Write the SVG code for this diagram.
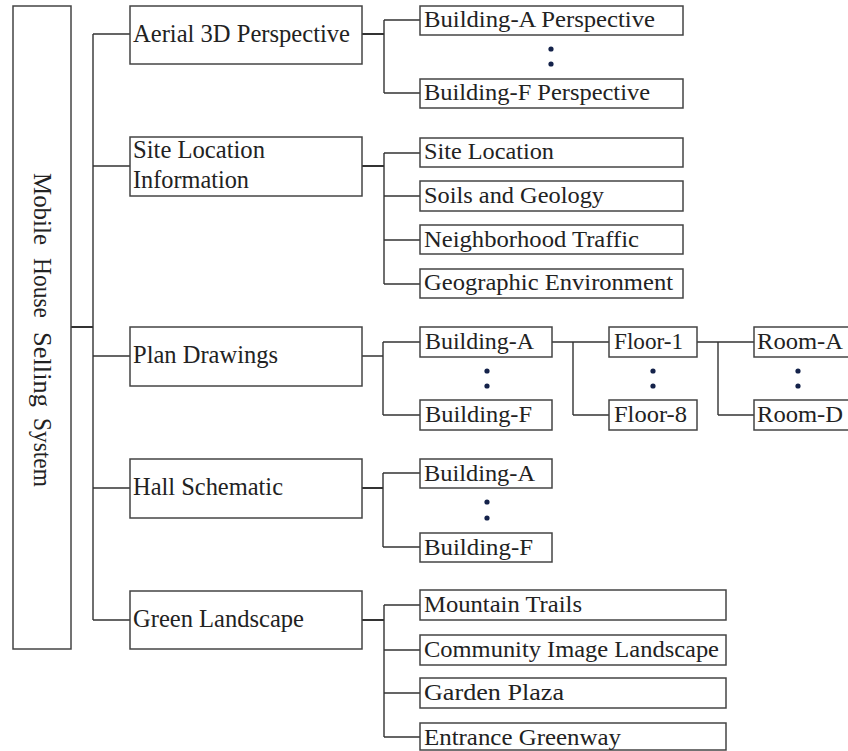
<svg xmlns="http://www.w3.org/2000/svg" width="848" height="751" viewBox="0 0 848 751">
<style>
.box{fill:#fff;stroke:#444;stroke-width:1.5}
.ln{fill:none;stroke:#333;stroke-width:1.4}
.t{font-family:"Liberation Serif","Times New Roman",serif;font-size:24px;fill:#222}
.t1{font-size:25px}
.dot{fill:#14224a}
</style>
<rect width="848" height="751" fill="#fff"/>
<g id="connectors">
<path class="ln" style="stroke-width:2" d="M71,327H93"/>
<path class="ln" d="M93,34V620M93,34H130M93,166H130M93,356H130M93,488H130M93,620H130"/>
<path class="ln" style="stroke-width:2" d="M362,34H384"/>
<path class="ln" d="M384,20V93M384,20H420M384,93H420"/>
<path class="ln" style="stroke-width:2" d="M362,166H384"/>
<path class="ln" d="M384,153V284M384,153H420M384,196H420M384,240H420M384,284H420"/>
<path class="ln" d="M362,356H383M383,342V415M383,342H420M383,415H420"/>
<path class="ln" d="M552,342H609M573,342V415M573,415H609"/>
<path class="ln" d="M697,342H754M718,342V415M718,415H754"/>
<path class="ln" style="stroke-width:2" d="M362,488H383"/>
<path class="ln" d="M383,473V547M383,473H420M383,547H420"/>
<path class="ln" style="stroke-width:2" d="M362,620H384"/>
<path class="ln" d="M384,605V737M384,605H420M384,650H420M384,693H420M384,737H420"/>
</g>
<g id="root">
<rect class="box" x="13" y="6" width="58" height="643"/>
<text class="t t1" transform="translate(34,173) rotate(90)"><tspan x="0" textLength="72" lengthAdjust="spacingAndGlyphs">Mobile</tspan> <tspan x="85" textLength="60" lengthAdjust="spacingAndGlyphs">House</tspan> <tspan x="159" textLength="75" lengthAdjust="spacingAndGlyphs">Selling</tspan> <tspan x="245" textLength="69" lengthAdjust="spacingAndGlyphs">System</tspan></text>
</g>
<g id="aerial">
<rect class="box" x="130" y="6" width="232" height="58"/>
<text class="t t1" x="133" y="42" textLength="217" lengthAdjust="spacingAndGlyphs">Aerial 3D Perspective</text>
</g>
<g id="site">
<rect class="box" x="130" y="137" width="232" height="59"/>
<text class="t t1" x="133" y="158" textLength="132" lengthAdjust="spacingAndGlyphs">Site Location</text>
<text class="t t1" x="133" y="188" textLength="116" lengthAdjust="spacingAndGlyphs">Information</text>
</g>
<g id="plan">
<rect class="box" x="130" y="327" width="232" height="59"/>
<text class="t t1" x="133" y="363" textLength="145" lengthAdjust="spacingAndGlyphs">Plan Drawings</text>
</g>
<g id="hall">
<rect class="box" x="130" y="459" width="232" height="59"/>
<text class="t t1" x="133" y="495" textLength="150" lengthAdjust="spacingAndGlyphs">Hall Schematic</text>
</g>
<g id="green">
<rect class="box" x="130" y="591" width="232" height="58"/>
<text class="t t1" x="133" y="627" textLength="171" lengthAdjust="spacingAndGlyphs">Green Landscape</text>
</g>
<g id="bldgA-persp">
<rect class="box" x="420" y="6" width="263" height="29"/>
<text class="t" x="424" y="27" textLength="231" lengthAdjust="spacingAndGlyphs">Building-A Perspective</text>
</g>
<g id="persp-dots"><circle class="dot" cx="551" cy="49" r="2.6"/><circle class="dot" cx="551" cy="64" r="2.6"/></g>
<g id="bldgF-persp">
<rect class="box" x="420" y="79" width="263" height="29"/>
<text class="t" x="424" y="100" textLength="226" lengthAdjust="spacingAndGlyphs">Building-F Perspective</text>
</g>
<g id="site-loc">
<rect class="box" x="420" y="138" width="263" height="29"/>
<text class="t" x="424" y="159" textLength="130" lengthAdjust="spacingAndGlyphs">Site Location</text>
</g>
<g id="soils">
<rect class="box" x="420" y="181" width="263" height="30"/>
<text class="t" x="424" y="203" textLength="180" lengthAdjust="spacingAndGlyphs">Soils and Geology</text>
</g>
<g id="traffic">
<rect class="box" x="420" y="225" width="263" height="29"/>
<text class="t" x="424" y="247" textLength="215" lengthAdjust="spacingAndGlyphs">Neighborhood Traffic</text>
</g>
<g id="geo">
<rect class="box" x="420" y="269" width="263" height="29"/>
<text class="t" x="424" y="290" textLength="249" lengthAdjust="spacingAndGlyphs">Geographic Environment</text>
</g>
<g id="plan-bldgA">
<rect class="box" x="420" y="327" width="132" height="30"/>
<text class="t" x="425" y="349" textLength="109" lengthAdjust="spacingAndGlyphs">Building-A</text>
</g>
<g id="plan-dots"><circle class="dot" cx="487" cy="371" r="2.6"/><circle class="dot" cx="487" cy="386" r="2.6"/></g>
<g id="plan-bldgF">
<rect class="box" x="420" y="400" width="132" height="30"/>
<text class="t" x="425" y="422" textLength="107" lengthAdjust="spacingAndGlyphs">Building-F</text>
</g>
<g id="floor1">
<rect class="box" x="609" y="327" width="88" height="30"/>
<text class="t" x="614" y="349" textLength="69" lengthAdjust="spacingAndGlyphs">Floor-1</text>
</g>
<g id="floor-dots"><circle class="dot" cx="653" cy="371" r="2.6"/><circle class="dot" cx="653" cy="386" r="2.6"/></g>
<g id="floor8">
<rect class="box" x="609" y="400" width="88" height="30"/>
<text class="t" x="614" y="422" textLength="73" lengthAdjust="spacingAndGlyphs">Floor-8</text>
</g>
<g id="roomA">
<rect class="box" x="754" y="327" width="100" height="30"/>
<text class="t" x="757" y="349" textLength="86" lengthAdjust="spacingAndGlyphs">Room-A</text>
</g>
<g id="room-dots"><circle class="dot" cx="798" cy="371" r="2.6"/><circle class="dot" cx="798" cy="386" r="2.6"/></g>
<g id="roomD">
<rect class="box" x="754" y="400" width="100" height="30"/>
<text class="t" x="757" y="422" textLength="86" lengthAdjust="spacingAndGlyphs">Room-D</text>
</g>
<g id="hall-bldgA">
<rect class="box" x="420" y="459" width="132" height="29"/>
<text class="t" x="424" y="481" textLength="111" lengthAdjust="spacingAndGlyphs">Building-A</text>
</g>
<g id="hall-dots"><circle class="dot" cx="487" cy="502" r="2.6"/><circle class="dot" cx="487" cy="518" r="2.6"/></g>
<g id="hall-bldgF">
<rect class="box" x="420" y="533" width="132" height="29"/>
<text class="t" x="424" y="555" textLength="109" lengthAdjust="spacingAndGlyphs">Building-F</text>
</g>
<g id="mountain">
<rect class="box" x="420" y="590" width="306" height="30"/>
<text class="t" x="424" y="612" textLength="158" lengthAdjust="spacingAndGlyphs">Mountain Trails</text>
</g>
<g id="community">
<rect class="box" x="420" y="635" width="306" height="30"/>
<text class="t" x="424" y="657" textLength="295" lengthAdjust="spacingAndGlyphs">Community Image Landscape</text>
</g>
<g id="garden">
<rect class="box" x="420" y="678" width="306" height="30"/>
<text class="t" x="424" y="700" textLength="140" lengthAdjust="spacingAndGlyphs">Garden Plaza</text>
</g>
<g id="entrance">
<rect class="box" x="420" y="723" width="306" height="27"/>
<text class="t" x="424" y="745" textLength="197" lengthAdjust="spacingAndGlyphs">Entrance Greenway</text>
</g>
</svg>
